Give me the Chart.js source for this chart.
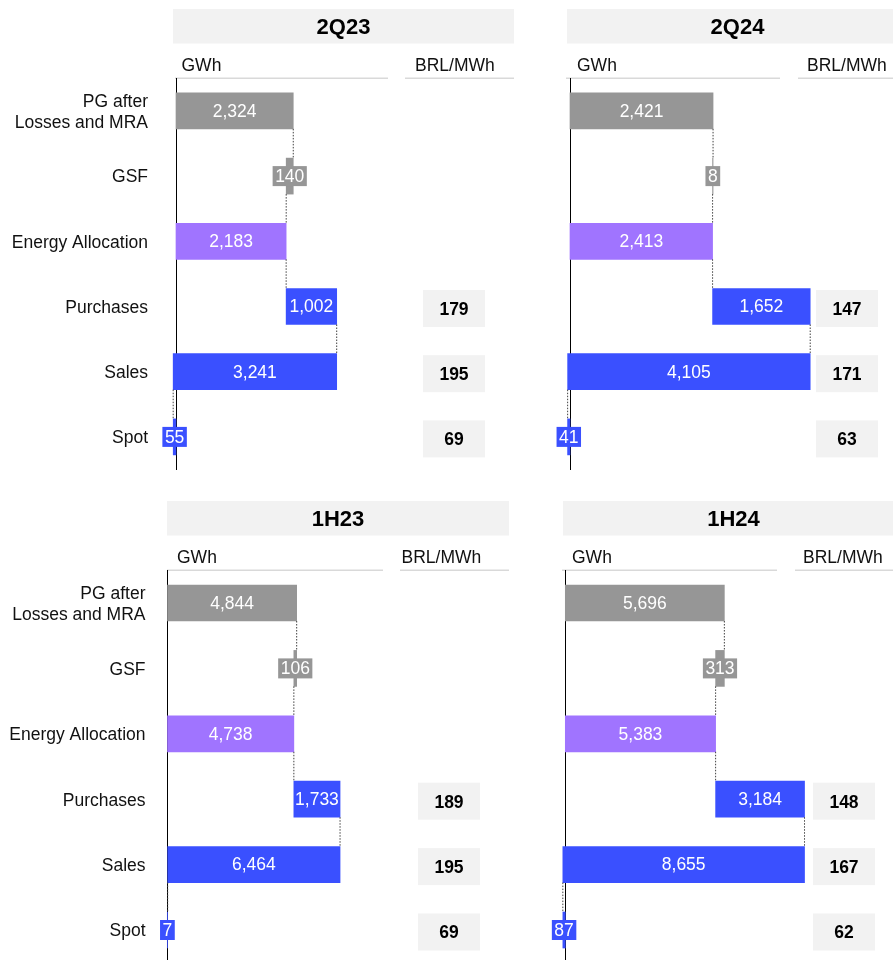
<!DOCTYPE html>
<html>
<head>
<meta charset="utf-8">
<script src="https://cdn.jsdelivr.net/npm/chart.js@4.4.1/dist/chart.umd.min.js"></script>
<style>
  html, body { margin: 0; padding: 0; background: #fff; overflow: hidden; width: 893px; height: 960px; }
  canvas { position: absolute; left: 0; }
</style>
</head>
<body>
<canvas id="p0" width="893" height="520" style="top:0px"></canvas>
<canvas id="p1" width="893" height="520" style="top:0px"></canvas>
<canvas id="p2" width="893" height="521" style="top:492px"></canvas>
<canvas id="p3" width="893" height="521" style="top:492px"></canvas>
<script>
// Energy balance per period (GWh) and average prices (BRL/MWh)
const categories = [['PG after', 'Losses and MRA'], 'GSF', 'Energy Allocation', 'Purchases', 'Sales', 'Spot'];
const periods = ['2Q23', '2Q24', '1H23', '1H24'];
const pgAfterLosses = [2324, 2421, 4844, 5696];
const gsf = [140, 8, 106, 313];
const energyAllocation = [2183, 2413, 4738, 5383];
const purchases = [1002, 1652, 1733, 3184];
const sales = [3241, 4105, 6464, 8655];
const spot = [55, 41, 7, 87];
const purchasePrice = [179, 147, 189, 148];
const salesPrice = [195, 171, 195, 167];
const spotPrice = [69, 63, 69, 62];
const xAxisMax = [4400, 4400, 8400, 9300];

const FONT = "'Liberation Sans', Arial, Helvetica, sans-serif";
const FS = 17.5;
Chart.defaults.font.family = FONT;
Chart.defaults.font.size = FS;
Chart.defaults.color = '#111';

const GRAY = '#969696', PURPLE = '#a074ff', BLUE = '#3a50ff';
const barColors = [GRAY, GRAY, PURPLE, BLUE, BLUE, BLUE];

// panel geometry (page pixels)
const panels = [
  { axisX: 176,   plotRight: 398,   labelPad: 28, showLabels: true,  head: [173, 514], gwhLine: [175, 388], gwhText: 181.5, brlLine: [405, 514], brlText: 415,   box: [423, 485], h: 520, bottom: 469.5 },
  { axisX: 570,   plotRight: 830,   labelPad: 28, showLabels: false, head: [567, 908], gwhLine: [566, 780], gwhText: 577,   brlLine: [798, 893], brlText: 807,   box: [816, 878], h: 520, bottom: 469.5 },
  { axisX: 167.5, plotRight: 391.5, labelPad: 22, showLabels: true,  head: [167, 509], gwhLine: [167, 383], gwhText: 177,   brlLine: [400, 509], brlText: 401.5, box: [418, 480], h: 521, bottom: 470.7 },
  { axisX: 565.3, plotRight: 825,   labelPad: 22, showLabels: false, head: [563, 904], gwhLine: [562, 777], gwhText: 572,   brlLine: [795, 893], brlText: 803,   box: [813, 875], h: 521, bottom: 470.7 }
];

function fmt(v) { return String(v).replace(/\B(?=(\d{3})+(?!\d))/g, ','); }

function makePanelPlugin(i, p, values) {
  const prices = [[3, purchasePrice[i]], [4, salesPrice[i]], [5, spotPrice[i]]];
  return {
    id: 'panelDecor' + i,
    beforeDraw(chart) {
      const ctx = chart.ctx;
      ctx.save();
      // period header band
      ctx.fillStyle = '#f2f2f2';
      ctx.fillRect(p.head[0], 9, p.head[1] - p.head[0], 34.5);
      ctx.fillStyle = '#000';
      ctx.font = 'bold 22px ' + FONT;
      ctx.textAlign = 'center';
      ctx.textBaseline = 'middle';
      ctx.fillText(periods[i], (p.head[0] + p.head[1]) / 2, 27.5);
      // unit captions with underlines
      ctx.font = FS + 'px ' + FONT;
      ctx.fillStyle = '#111';
      ctx.textAlign = 'left';
      ctx.textBaseline = 'alphabetic';
      ctx.fillText('GWh', p.gwhText, 70.5);
      ctx.fillText('BRL/MWh', p.brlText, 70.5);
      ctx.fillStyle = '#d9d9d9';
      ctx.fillRect(p.gwhLine[0], 77.5, p.gwhLine[1] - p.gwhLine[0], 1.5);
      ctx.fillRect(p.brlLine[0], 77.5, p.brlLine[1] - p.brlLine[0], 1.5);
      // price boxes aligned with their rows
      const yScale = chart.scales.y;
      prices.forEach(([row, v]) => {
        const cy = yScale.getPixelForValue(row) + 2;
        ctx.fillStyle = '#f2f2f2';
        ctx.fillRect(p.box[0], cy - 18.5, p.box[1] - p.box[0], 37);
        ctx.fillStyle = '#000';
        ctx.font = 'bold ' + FS + 'px ' + FONT;
        ctx.textAlign = 'center';
        ctx.textBaseline = 'middle';
        ctx.fillText(String(v), (p.box[0] + p.box[1]) / 2, cy + 1.5);
      });
      ctx.restore();
    },
    afterDatasetsDraw(chart) {
      const ctx = chart.ctx;
      const bars = chart.getDatasetMeta(0).data;
      ctx.save();
      // dotted connectors between consecutive steps
      ctx.strokeStyle = '#404040';
      ctx.lineWidth = 1;
      ctx.setLineDash([1.5, 1.5]);
      const links = [[0, 'end'], [1, 'start'], [2, 'end'], [3, 'end'], [4, 'start']];
      links.forEach(([k, side]) => {
        const a = bars[k], b = bars[k + 1];
        const x = side === 'end' ? Math.max(a.x, a.base) : Math.min(a.x, a.base);
        ctx.beginPath();
        ctx.moveTo(x, a.y + a.height / 2);
        ctx.lineTo(x, b.y - b.height / 2);
        ctx.stroke();
      });
      ctx.setLineDash([]);
      // value labels
      ctx.font = FS + 'px ' + FONT;
      ctx.textAlign = 'center';
      ctx.textBaseline = 'middle';
      values.forEach((v, k) => {
        const bar = bars[k];
        const left = Math.min(bar.x, bar.base), right = Math.max(bar.x, bar.base);
        const cx = (left + right) / 2, cy = bar.y;
        const txt = fmt(v);
        const tw = ctx.measureText(txt).width;
        if (tw > right - left) {
          ctx.fillStyle = barColors[k];
          ctx.fillRect(cx - tw / 2 - 2.5, cy - 10, tw + 5, 20);
        }
        ctx.fillStyle = '#fff';
        ctx.fillText(txt, cx, cy + 1);
      });
      ctx.restore();
    }
  };
}

panels.forEach((p, i) => {
  const supply = energyAllocation[i] + purchases[i];
  const values = [pgAfterLosses[i], gsf[i], energyAllocation[i], purchases[i], sales[i], spot[i]];
  const steps = [
    [0, pgAfterLosses[i]],
    [pgAfterLosses[i] - gsf[i], pgAfterLosses[i]],
    [0, energyAllocation[i]],
    [energyAllocation[i], supply],
    [supply - sales[i], supply],
    [-spot[i], 0]
  ];
  new Chart(document.getElementById('p' + i), {
    type: 'bar',
    data: {
      labels: categories,
      datasets: [{
        data: steps,
        backgroundColor: barColors,
        borderWidth: 0,
        barThickness: 36,
        clip: false
      }]
    },
    options: {
      indexAxis: 'y',
      responsive: false,
      animation: false,
      events: [],
      layout: { padding: { left: 0, right: 893 - p.plotRight, top: 78.3, bottom: p.h - p.bottom } },
      plugins: { legend: { display: false }, tooltip: { enabled: false } },
      scales: {
        x: { type: 'linear', min: 0, max: xAxisMax[i], display: false },
        y: {
          type: 'category',
          grid: { display: false, drawTicks: false },
          border: { display: true, color: '#000', width: 1 },
          ticks: { display: p.showLabels, padding: p.labelPad, labelOffset: 1.5, color: '#111', font: { size: FS } },
          afterFit(scale) { scale.width = p.axisX; }
        }
      }
    },
    plugins: [makePanelPlugin(i, p, values)]
  });
});
</script>
</body>
</html>
